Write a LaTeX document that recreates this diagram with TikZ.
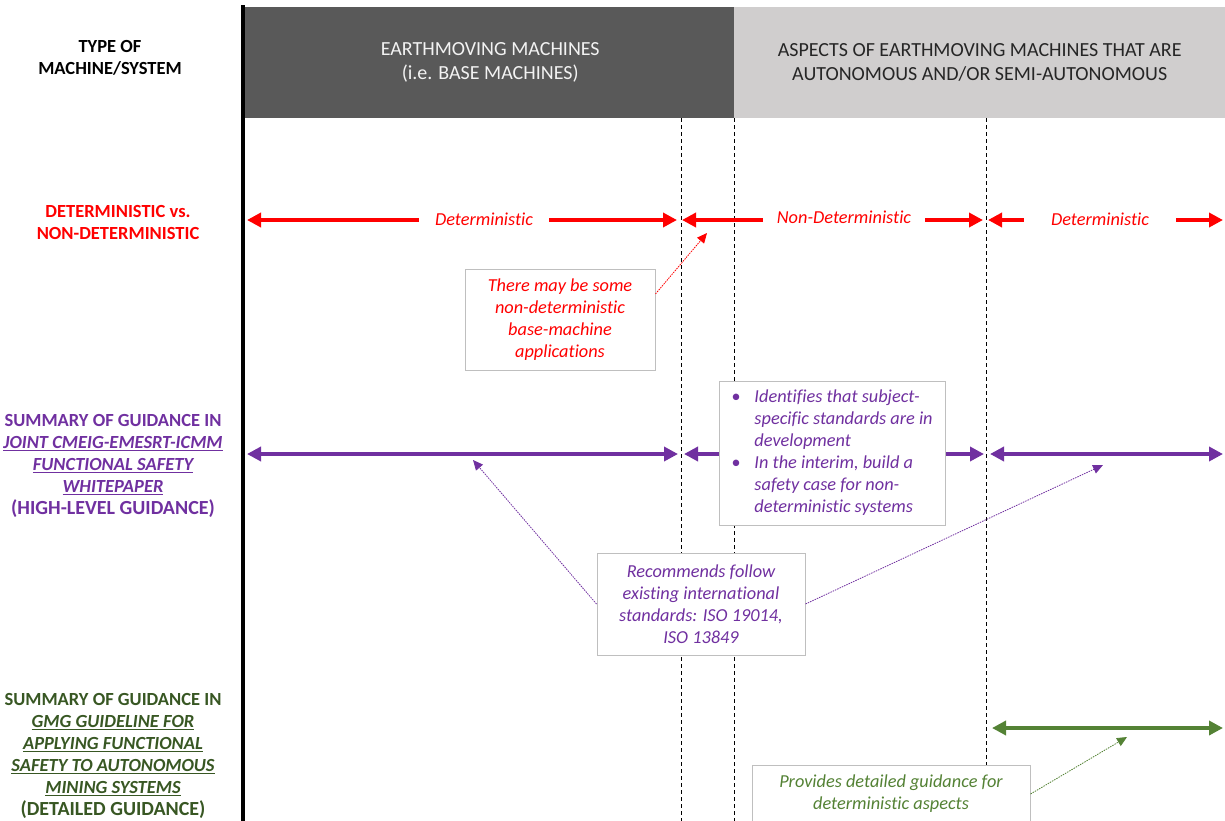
\documentclass[tikz,border=0pt]{standalone}
\usepackage{fontspec}
\setmainfont{Carlito}[Ligatures=NoCommon]
\usetikzlibrary{arrows.meta}
\definecolor{cred}{HTML}{FF0000}
\definecolor{cpurple}{HTML}{7030A0}
\definecolor{cgreen}{HTML}{548235}
\definecolor{cdkgreen}{HTML}{385723}
\definecolor{hdark}{HTML}{595959}
\definecolor{hlight}{HTML}{D0CECE}
\definecolor{boxline}{HTML}{BFBFBF}
\definecolor{hdrtxt}{HTML}{262626}
\tikzset{
  lbl/.style={align=center, inner sep=0pt, font=\fontsize{18.5}{22}\selectfont\bfseries},
  hdrtext/.style={align=center, inner sep=0pt, font=\fontsize{20}{24}\selectfont},
  bigarrow/.style={line width=4pt, {Triangle[length=14pt,width=14pt]}-{Triangle[length=14pt,width=14pt]}},
  arrlabel/.style={fill=white, inner ysep=1pt, font=\fontsize{18.3}{22}\selectfont\itshape, text=cred},
  callout/.style={draw=boxline, line width=1pt, fill=white, align=center, inner sep=0pt,
    font=\fontsize{18.3}{22}\selectfont\itshape},
  conn/.style={line width=0.8pt, dash pattern=on 1.5pt off 1pt, -{Triangle[length=10pt,width=9pt]}},
  divider/.style={line width=0.9pt, dash pattern=on 4pt off 3pt},
}
\begin{document}
\begin{tikzpicture}[x=1pt,y=-1pt]
\useasboundingbox (0,0) rectangle (1225,820);
\clip (0,0) rectangle (1225,820);

% headers
\node[fill=hdark, minimum width=490pt, minimum height=111pt, inner sep=0pt, anchor=north west] (h1) at (245,7) {};
\node[fill=hlight, minimum width=491pt, minimum height=111pt, inner sep=0pt, anchor=north west] (h2) at (734,7) {};
\node[hdrtext, text=white!95!black] (h1t) at (h1.center) {EARTHMOVING MACHINES\\(i.e. BASE MACHINES)};
\node[hdrtext, text=hdrtxt] (h2t) at (h2.center) {ASPECTS OF EARTHMOVING MACHINES THAT ARE\\AUTONOMOUS AND/OR SEMI-AUTONOMOUS};

% main vertical line
\coordinate (vtop) at (243,5);
\coordinate (vbot) at (243,822);
\draw[line width=4pt] (vtop) -- (vbot);

% dashed dividers
\coordinate (d1t) at (681,118); \coordinate (d1b) at (681,822);
\coordinate (d2t) at (734,118); \coordinate (d2b) at (734,822);
\coordinate (d3t) at (986,118); \coordinate (d3b) at (986,822);
\draw[divider] (d1t) -- (d1b);
\draw[divider] (d2t) -- (d2b);
\draw[divider] (d3t) -- (d3b);

% left labels
\node[lbl] (type) at (110,58) {TYPE OF\\MACHINE/SYSTEM};
\node[lbl, text=cred] (det) at (118,222) {DETERMINISTIC vs.\\NON-DETERMINISTIC};
\node[lbl, text=cpurple] (sum1) at (113,466) {SUMMARY OF GUIDANCE IN\\\underline{\itshape JOINT CMEIG-EMESRT-ICMM}\\\underline{\itshape FUNCTIONAL SAFETY}\\\underline{\itshape WHITEPAPER}\\{\fontsize{20}{22}\selectfont (HIGH-LEVEL GUIDANCE)}};
\node[lbl, text=cdkgreen] (sum2) at (113,756) {SUMMARY OF GUIDANCE IN\\\underline{\itshape GMG GUIDELINE FOR}\\\underline{\itshape APPLYING FUNCTIONAL}\\\underline{\itshape SAFETY TO AUTONOMOUS}\\\underline{\itshape MINING SYSTEMS}\\{\fontsize{20}{22}\selectfont (DETAILED GUIDANCE)}};

% red arrows
\coordinate (r1a) at (247,220); \coordinate (r1b) at (677,220);
\coordinate (r2a) at (682,220); \coordinate (r2b) at (983,220);
\coordinate (r3a) at (988,220); \coordinate (r3b) at (1223,220);
\draw[bigarrow, cred] (r1a) -- (r1b);
\draw[bigarrow, cred] (r2a) -- (r2b);
\draw[bigarrow, cred] (r3a) -- (r3b);
\node[arrlabel, inner xsep=16pt] (l1) at (484,219) {Deterministic};
\node[arrlabel, inner xsep=14pt] (l2) at (844,217) {Non-Deterministic};
\node[arrlabel, inner xsep=27pt] (l3) at (1100,219) {Deterministic};

% purple arrows
\coordinate (p1a) at (247,454); \coordinate (p1b) at (678,454);
\coordinate (p2a) at (684,454); \coordinate (p2b) at (984,454);
\coordinate (p3a) at (990,454); \coordinate (p3b) at (1223,454);
\draw[bigarrow, cpurple] (p1a) -- (p1b);
\draw[bigarrow, cpurple] (p2a) -- (p2b);
\draw[bigarrow, cpurple] (p3a) -- (p3b);

% green arrow
\coordinate (g1a) at (992,728); \coordinate (g1b) at (1223,728);
\draw[bigarrow, cgreen] (g1a) -- (g1b);

% callout boxes
\node[callout, text=cred, minimum width=190pt, minimum height=101pt] (box1) at (560,319.5)
  {There may be some\\non-deterministic\\base-machine\\applications};
\node[callout, text=cpurple, minimum width=226pt, minimum height=144pt] (box2) at (832,453)
  {\begin{tabular}{@{}l@{\hspace{14pt}}l@{}}
   \textbullet & Identifies that subject-\\
               & specific standards are in\\
               & development\\
   \textbullet & In the interim, build a\\
               & safety case for non-\\
               & deterministic systems
   \end{tabular}};
\node[callout, text=cpurple, minimum width=208pt, minimum height=102pt] (box3) at (701,604)
  {Recommends follow\\existing international\\standards: ISO 19014,\\ISO 13849};
\node[callout, text=cgreen, minimum width=278pt, minimum height=58pt] (box4) at (891,794)
  {Provides detailed guidance for\\deterministic aspects};

% callout connectors
\coordinate (c1) at (707,233);
\coordinate (c2) at (473,460);
\coordinate (c3) at (1103,465);
\coordinate (c4) at (1127,737);
\draw[conn, cred] (box1.15) -- (c1);
\draw[conn, cpurple] (box3.west) -- (c2);
\draw[conn, cpurple] (box3.east) -- (c3);
\draw[conn, cgreen] (box4.east) -- (c4);
\end{tikzpicture}
\end{document}
